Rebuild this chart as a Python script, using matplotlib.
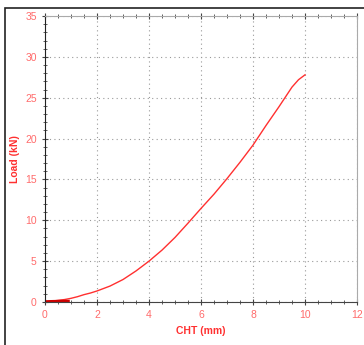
import matplotlib
matplotlib.use("Agg")
import matplotlib.pyplot as plt
from matplotlib.ticker import MultipleLocator
from matplotlib.patches import Rectangle

cht = [0, 0.25, 0.5, 0.75, 1.0, 1.25, 1.5, 1.75, 2.0, 2.5, 3.0, 3.5, 4.0, 4.5, 5.0, 5.5, 6.0,
       6.5, 7.0, 7.5, 8.0, 8.5, 9.0, 9.25, 9.5, 9.75, 10.0]
load = [0, 0.1, 0.2, 0.3, 0.45, 0.65, 0.9, 1.1, 1.35, 1.95, 2.75, 3.8, 5.0, 6.35, 7.9, 9.65, 11.45,
        13.2, 15.1, 17.1, 19.2, 21.6, 23.9, 25.1, 26.3, 27.2, 27.8]
pre_x = [0, 0.3, 0.6, 0.9]
pre_y = [0.05, 0.08, 0.1, 0.1]

xticks = [0, 2, 4, 6, 8, 10, 12]
yticks = [0, 5, 10, 15, 20, 25, 30, 35]

red = "#ff3030"
lab = "#ff6b6b"

fig = plt.figure(figsize=(3.64, 3.45), dpi=100)
fig.patches.append(Rectangle((5/364, -0.1), 1.2, (345-8)/345 + 0.1, transform=fig.transFigure,
                             fill=False, edgecolor="#222222", linewidth=1.2))
ax = fig.add_axes([45/364, 43/345, 312/364, 286/345])
ax.plot(cht, load, color=red, linewidth=1.0)
ax.plot(pre_x, pre_y, color="#cc0000", linewidth=2.0)
ax.set_xlim(0, 12)
ax.set_ylim(0, 35)
ax.set_xticks(xticks)
ax.set_yticks(yticks)
ax.xaxis.set_minor_locator(MultipleLocator(0.5))
ax.yaxis.set_minor_locator(MultipleLocator(1))
ax.grid(True, which="major", color="#999999", linestyle=(0, (1, 3)), linewidth=0.8)
ax.tick_params(axis="both", which="both", colors="#444444", labelcolor=lab, labelsize=7.5)
ax.tick_params(axis="x", which="both", direction="inout", top=True)
ax.tick_params(axis="y", which="both", direction="inout")
ax.tick_params(which="major", length=5)
ax.tick_params(which="minor", length=3)
for s in ["top", "right"]:
    ax.spines[s].set_color("#aaaaaa")
ax.spines["left"].set_color("#222222")
ax.spines["bottom"].set_color("#444444")
for lbl in ax.get_xticklabels() + ax.get_yticklabels():
    lbl.set_family("Liberation Sans")
ax.set_xlabel("CHT (mm)", color=red, fontsize=7.5, fontweight="bold", family="Liberation Sans", labelpad=4)
ax.set_ylabel("Load (kN)", color=red, fontsize=7.5, fontweight="bold", family="Liberation Sans")
ax.yaxis.set_label_coords(-25/312, 0.5)
fig.savefig("out.png", dpi=100)
